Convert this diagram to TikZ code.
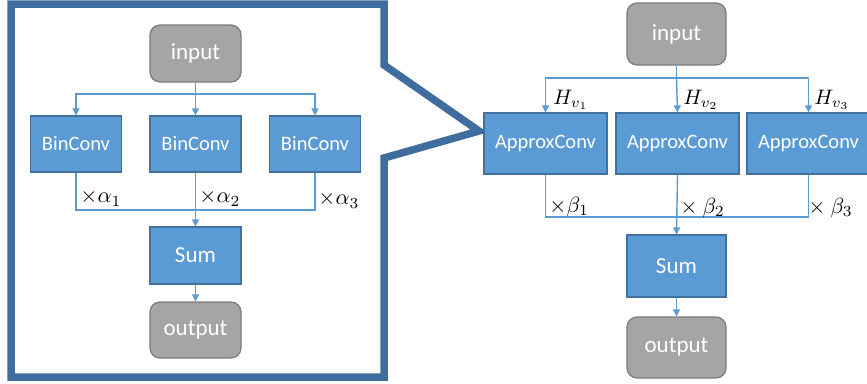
\documentclass[tikz,border=0pt]{standalone}
\usepackage[no-math]{fontspec}
\setmainfont{Carlito}
\usetikzlibrary{arrows.meta}
\definecolor{boxblue}{HTML}{5B9BD5}
\definecolor{boxblueb}{HTML}{41719C}
\definecolor{boxgray}{HTML}{A5A5A5}
\definecolor{boxgrayb}{HTML}{7B7B7B}
\definecolor{callout}{HTML}{3F6E9E}
\tikzset{
  graybox/.style={draw=boxgrayb, line width=1.2pt, fill=boxgray, rounded corners=10pt, text=white, font=\fontsize{23}{25}\selectfont, inner sep=0pt},
  bluebox/.style={draw=boxblueb, line width=1.2pt, fill=boxblue, text=white, inner sep=0pt},
  conn/.style={draw=boxblue, line width=1.4pt},
  arr/.style={conn, -{Triangle[length=7pt,width=7pt]}},
  lab/.style={anchor=west, inner sep=0pt, scale=2.2},
  hlab/.style={anchor=west, inner sep=0pt, scale=2.1},
}
\begin{document}
\begin{tikzpicture}[x=1pt,y=-1pt]
\useasboundingbox (0,0) rectangle (867,383);
% callout frame
\draw[callout, line width=7.5pt, line join=miter] (384,65) -- (384,4) -- (11,4) -- (11,377) -- (384,377) -- (384,158) -- (479,131) -- cycle;
% left diagram
\node[graybox, minimum width=91pt, minimum height=57pt] (lin) at (195.5,53.5) {input};
\node[bluebox, minimum width=91pt, minimum height=56pt, font=\fontsize{20.5}{22}\selectfont] (b1) at (76,144) {BinConv};
\node[bluebox, minimum width=91pt, minimum height=56pt, font=\fontsize{20.5}{22}\selectfont] (b2) at (195.5,144) {BinConv};
\node[bluebox, minimum width=91pt, minimum height=56pt, font=\fontsize{20.5}{22}\selectfont] (b3) at (315,144) {BinConv};
\node[bluebox, minimum width=91pt, minimum height=57pt, font=\fontsize{23}{25}\selectfont] (lsum) at (195.5,255.5) {Sum};
\node[graybox, minimum width=91pt, minimum height=56pt] (lout) at (195.5,330) {output};
\coordinate (lb) at (195.5,94);
\coordinate (lc) at (195.5,210);
\draw[conn] (lin.south) -- (lb);
\draw[arr] (lb) -| (b1.north);
\draw[arr] (lb) -- (b2.north);
\draw[arr] (lb) -| (b3.north);
\draw[conn] (b1.south) |- (lc);
\draw[conn] (b3.south) |- (lc);
\draw[arr] (b2.south) -- (lsum.north);
\draw[arr] (lsum.south) -- (lout.north);
\node[lab] (la1) at (80,198) {$\times\alpha_1$};
\node[lab] (la2) at (199,198) {$\times\alpha_2$};
\node[lab] (la3) at (318,200) {$\times\alpha_3$};
% right diagram
\node[graybox, minimum width=99pt, minimum height=62pt] (rin) at (676.5,34) {input};
\node[bluebox, minimum width=123pt, minimum height=61pt, font=\fontsize{20.5}{22}\selectfont] (a1) at (545.5,143.5) {ApproxConv};
\node[bluebox, minimum width=123pt, minimum height=61pt, font=\fontsize{20.5}{22}\selectfont] (a2) at (677.5,143.5) {ApproxConv};
\node[bluebox, minimum width=123pt, minimum height=61pt, font=\fontsize{20.5}{22}\selectfont] (a3) at (808.5,143.5) {ApproxConv};
\node[bluebox, minimum width=99pt, minimum height=62pt, font=\fontsize{23}{25}\selectfont] (rsum) at (676.5,266) {Sum};
\node[graybox, minimum width=99pt, minimum height=61pt] (rout) at (676.5,347.5) {output};
\coordinate (rb) at (676.5,78);
\coordinate (rc) at (676.5,217);
\draw[conn] (rin.south) -- (rb);
\draw[arr] (rb) -| (a1.north);
\draw[arr] (rb) -- (a2.north);
\draw[arr] (rb) -| (a3.north);
\draw[conn] (a1.south) |- (rc);
\draw[conn] (a3.south) |- (rc);
\draw[arr] (a2.south) -- (rsum.north);
\draw[arr] (rsum.south) -- (rout.north);
\node[hlab] (h1) at (553,100) {$H_{v_1}$};
\node[hlab] (h2) at (683,100) {$H_{v_2}$};
\node[hlab] (h3) at (814,100) {$H_{v_3}$};
\node[lab] (be1) at (549,207) {$\times\beta_1$};
\node[lab] (be2) at (680,208) {$\times\ \beta_2$};
\node[lab] (be3) at (808,208) {$\times\ \beta_3$};
\end{tikzpicture}
\end{document}
